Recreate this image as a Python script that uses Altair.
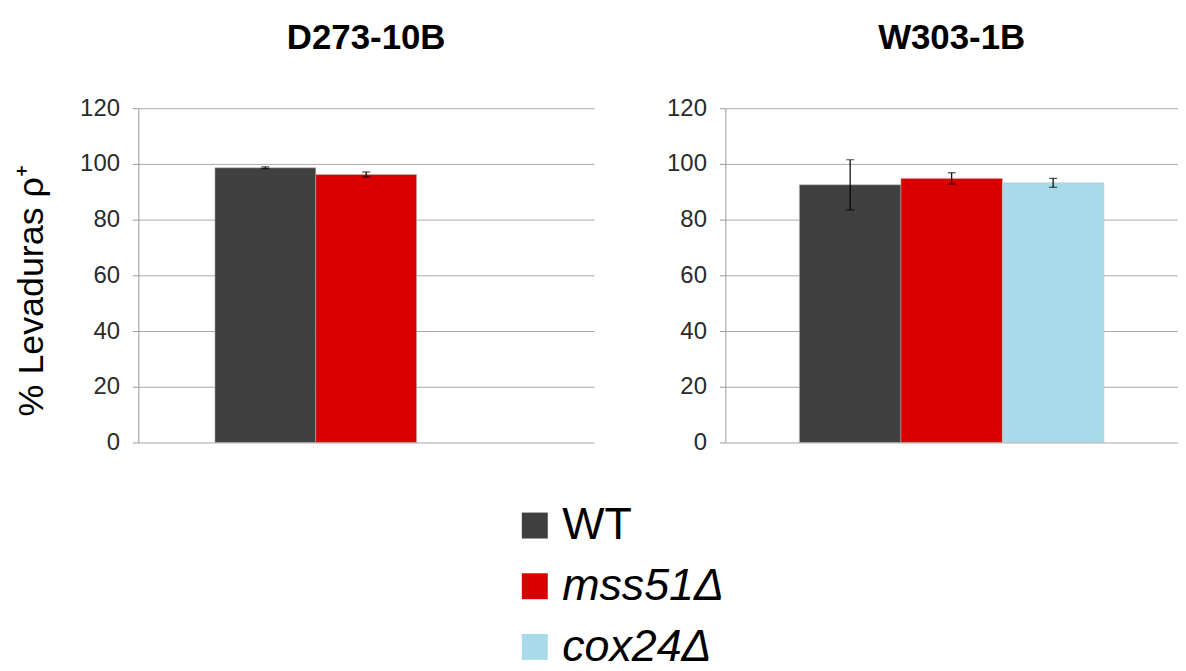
import altair as alt
import pandas as pd

strains = ["D273-10B", "D273-10B", "W303-1B", "W303-1B", "W303-1B"]
genotypes = ["WT", "mss51Δ", "WT", "mss51Δ", "cox24Δ"]
means = [98.6, 96.2, 92.5, 94.8, 93.2]
errors = [0.3, 0.9, 9.0, 2.0, 1.6]

geno_order = ["WT", "mss51Δ", "cox24Δ"]
geno_colors = ["#404040", "#d80000", "#a8dbea"]
y_ticks = [0, 20, 40, 60, 80, 100, 120]
panel_titles = ["D273-10B", "W303-1B"]

df = pd.DataFrame({"strain": strains, "genotype": genotypes, "mean": means, "err": errors})
df["lo"] = df["mean"] - df["err"]
df["hi"] = df["mean"] + df["err"]

FONT = "Liberation Sans"


def panel(strain, width, pad_outer, show_ytitle):
    axis_kwargs = dict(
        values=y_ticks, grid=True, gridColor="#a8a8a8", gridWidth=1,
        domainColor="#9a9a9a", tickColor="#9a9a9a", tickSize=6,
        labelColor="#2a2a2a", labelFont=FONT, labelFontSize=24, labelPadding=13,
        title="",
    )
    if show_ytitle:
        axis_kwargs.update(title="% Levaduras ρ⁺", titleFont=FONT, titleFontSize=36,
                           titleFontWeight="normal", titleColor="#000000", titlePadding=29,
                           titleY=183)
    xs = alt.X("genotype:N", scale=alt.Scale(domain=geno_order, paddingInner=0, paddingOuter=pad_outer), axis=None)
    base = alt.Chart(df).transform_filter(alt.datum.strain == strain)
    bars = base.mark_bar(stroke="#bbbbbb", strokeWidth=0.5).encode(
        x=xs,
        y=alt.Y("mean:Q", scale=alt.Scale(domain=[0, 120]), axis=alt.Axis(**axis_kwargs)),
        color=alt.Color("genotype:N", scale=alt.Scale(domain=geno_order, range=geno_colors),
                        legend=alt.Legend(
                            title="", orient="none", legendX=376, legendY=397,
                            symbolType="square", symbolSize=680, symbolStrokeWidth=0,
                            labelFont=FONT, labelFontSize=45, labelColor="#000000",
                            labelFontStyle=alt.ExprRef("datum.label == 'WT' ? 'normal' : 'italic'"),
                            labelOffset=5, rowPadding=15, labelLimit=400,
                        )),
    )
    rule = base.mark_rule(color="#000000", strokeWidth=1.2).encode(x=xs, y="lo:Q", y2="hi:Q")
    cap_lo = base.mark_tick(color="#000000", size=8, thickness=1.2).encode(x=xs, y="lo:Q")
    cap_hi = base.mark_tick(color="#000000", size=8, thickness=1.2).encode(x=xs, y="hi:Q")
    return alt.layer(bars, rule, cap_lo, cap_hi).properties(
        width=width, height=336,
        title=alt.Title(strain, fontSize=35, font=FONT, fontWeight="bold", offset=40, anchor="middle"),
    )


top = alt.hconcat(panel(panel_titles[0], 458, 0.76, True), panel(panel_titles[1], 455, 0.73, False), spacing=72)
chart = top.properties(padding={"left": 5, "top": 12, "right": 0, "bottom": 0}).configure_view(stroke=None)

chart.save("out.html", embed_options={"renderer": "svg", "actions": False})
